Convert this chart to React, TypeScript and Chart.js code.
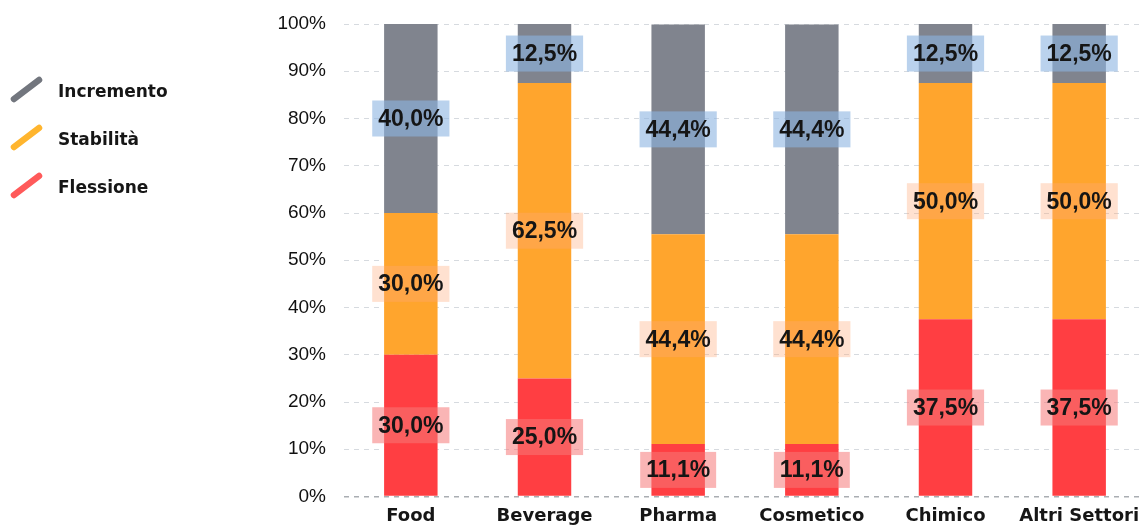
import React, { useEffect, useRef } from "react";
import { Chart, registerables } from "chart.js";

Chart.register(...registerables);

// Sectors shown on the x axis
const categories = ["Food", "Beverage", "Pharma", "Cosmetico", "Chimico", "Altri Settori"];

// Share of companies per outlook (percent), bottom to top of each stack
const flessione = [30.0, 25.0, 11.1, 11.1, 37.5, 37.5];
const stabilita = [30.0, 62.5, 44.4, 44.4, 50.0, 50.0];
const incremento = [40.0, 12.5, 44.4, 44.4, 12.5, 12.5];

const seriesNames = ["Flessione", "Stabilità", "Incremento"];
const legendOrder = ["Incremento", "Stabilità", "Flessione"];

const BAR_COLORS: Record<string, string> = {
  Flessione: "#ff3e42",
  Stabilità: "#ffa52d",
  Incremento: "#80848e",
};
const LEGEND_COLORS: Record<string, string> = {
  Flessione: "#ff5a5a",
  Stabilità: "#ffb52e",
  Incremento: "#72767e",
};
const LABEL_BOX: Record<string, string> = {
  Flessione: "rgba(245,120,120,0.55)",
  Stabilità: "rgba(255,170,120,0.35)",
  Incremento: "rgba(140,180,225,0.6)",
};

const formatPct = (v: number) => v.toFixed(1).replace(".", ",") + "%";

// Boxed value labels centred on every stacked segment
const valueLabels = {
  id: "valueLabels",
  afterDatasetsDraw(chart: any) {
    const ctx = chart.ctx;
    ctx.save();
    ctx.font = 'bold 23px "Liberation Sans", Arial, sans-serif';
    ctx.textAlign = "center";
    ctx.textBaseline = "middle";
    chart.data.datasets.forEach((ds: any, di: number) => {
      const meta = chart.getDatasetMeta(di);
      meta.data.forEach((bar: any, i: number) => {
        const v = ds.data[i] as number;
        const { x, y, base } = bar.getProps(["x", "y", "base"], true);
        const cy = (y + base) / 2;
        const text = formatPct(v);
        const w = ctx.measureText(text).width + 12;
        const h = 36;
        ctx.fillStyle = LABEL_BOX[ds.label];
        ctx.fillRect(x - w / 2, cy - h / 2, w, h);
        ctx.fillStyle = "#151515";
        ctx.fillText(text, x, cy + 1);
      });
    });
    ctx.restore();
  },
};

// Legend at the left: short slanted strokes with bold names
const sideLegend = {
  id: "sideLegend",
  afterDraw(chart: any) {
    const ctx = chart.ctx;
    ctx.save();
    ctx.font = 'bold 17px "DejaVu Sans", sans-serif';
    ctx.textAlign = "left";
    ctx.textBaseline = "alphabetic";
    legendOrder.forEach((name, i) => {
      const oy = i * 48;
      ctx.strokeStyle = LEGEND_COLORS[name];
      ctx.lineWidth = 6.5;
      ctx.lineCap = "round";
      ctx.beginPath();
      ctx.moveTo(14, 99 + oy);
      ctx.lineTo(39, 80 + oy);
      ctx.stroke();
      ctx.fillStyle = "#161616";
      ctx.fillText(name, 58, 97 + oy);
    });
    ctx.restore();
  },
};

export default function App() {
  const canvasRef = useRef<HTMLCanvasElement | null>(null);

  useEffect(() => {
    if (!canvasRef.current) return;
    const series = [flessione, stabilita, incremento];
    const chart = new Chart(canvasRef.current, {
      type: "bar",
      data: {
        labels: categories,
        datasets: seriesNames.map((name, i) => ({
          label: name,
          data: series[i],
          backgroundColor: BAR_COLORS[name],
          borderWidth: 0,
          barPercentage: 0.4,
          categoryPercentage: 1,
        })),
      },
      options: {
        responsive: false,
        animation: false,
        devicePixelRatio: 1,
        layout: { padding: { left: 0, right: 14, top: 24, bottom: 0 } },
        plugins: {
          legend: { display: false },
          tooltip: { enabled: false },
        },
        scales: {
          x: {
            stacked: true,
            grid: { display: false, drawTicks: false },
            border: { display: false },
            ticks: {
              color: "#161616",
              font: { family: '"DejaVu Sans", sans-serif', size: 18, weight: "bold" },
              padding: 9,
              maxRotation: 0,
              autoSkip: false,
            },
            afterFit(scale: any) {
              scale.height = 31.5;
            },
          },
          y: {
            stacked: true,
            min: 0,
            max: 100,
            grid: {
              drawTicks: false,
              color: (c: any) => (c.tick && c.tick.value === 0 ? "#a9adb2" : "#d6dadf"),
              lineWidth: (c: any) => (c.tick && c.tick.value === 0 ? 1.5 : 1),
            },
            border: { display: false, dash: [5, 5] },
            ticks: {
              stepSize: 10,
              color: "#111111",
              font: { family: '"Liberation Sans", Arial, sans-serif', size: 19 },
              padding: 18,
              callback: (v: any) => v + "%",
            },
            afterFit(scale: any) {
              scale.width = 344;
              // keep the plot top set by layout padding alone
              scale.paddingTop = 10;
              scale.paddingBottom = 10;
            },
          },
        },
      },
      plugins: [valueLabels, sideLegend],
    });
    return () => chart.destroy();
  }, []);

  return (
    <div
      style={{
        position: "absolute",
        left: 0,
        top: 0,
        width: 1139,
        height: 528,
        overflow: "hidden",
        background: "#ffffff",
      }}
    >
      <canvas ref={canvasRef} width={1160} height={528} style={{ display: "block" }} />
    </div>
  );
}
